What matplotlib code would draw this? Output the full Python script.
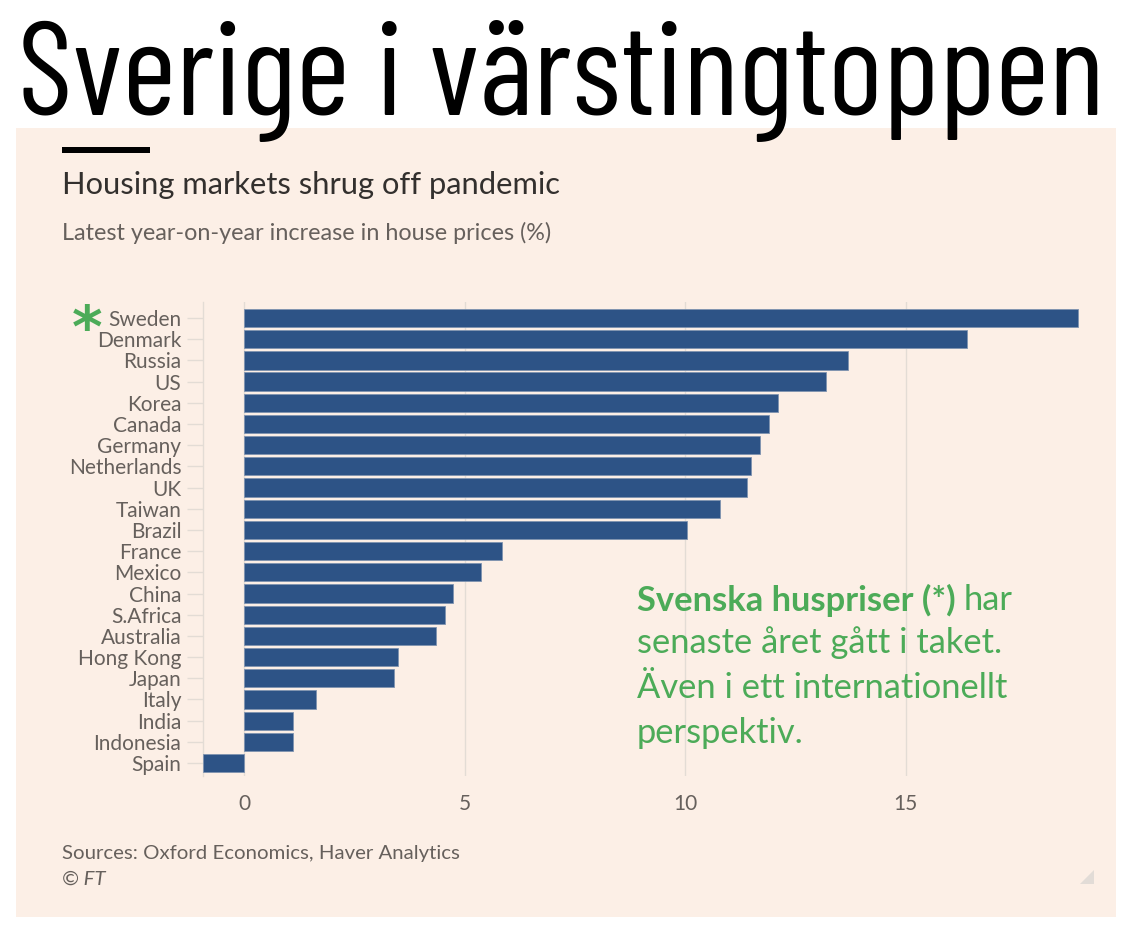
import matplotlib
matplotlib.use("Agg")
import matplotlib.pyplot as plt
from matplotlib.patches import Rectangle, Polygon

# data
countries = ["Sweden", "Denmark", "Russia", "US", "Korea", "Canada", "Germany",
             "Netherlands", "UK", "Taiwan", "Brazil", "France", "Mexico", "China",
             "S.Africa", "Australia", "Hong Kong", "Japan", "Italy", "India",
             "Indonesia", "Spain"]
increase = [18.9, 16.4, 13.7, 13.2, 12.1, 11.9, 11.7, 11.5, 11.4, 10.8, 10.05,
            5.85, 5.38, 4.73, 4.55, 4.35, 3.48, 3.41, 1.63, 1.12, 1.1, -0.92]
xticks = [0, 5, 10, 15]

W, H = 1142, 930
BG = "#fcefe6"
BAR = "#2d5386"
GRID = "#e3dcd5"
GREY = "#66605c"
GREEN = "#4cab58"
SANS = ["Lato", "DejaVu Sans"]

fig = plt.figure(figsize=(W / 100, H / 100), dpi=100)
fig.patch.set_facecolor("white")

def fx(px):
    return px / W

def fy(py):
    return 1 - py / H

# beige panel
fig.patches.append(Rectangle((fx(16), fy(917)), fx(1116) - fx(16), fy(128) - fy(917),
                             transform=fig.transFigure, facecolor=BG, edgecolor="none", zorder=-10))
# small FT rule
fig.patches.append(Rectangle((fx(62), fy(153)), fx(150) - fx(62), fy(147) - fy(153),
                             transform=fig.transFigure, facecolor="black", edgecolor="none", zorder=-5))
# resize corner mark
fig.patches.append(Polygon([(fx(1094), fy(870)), (fx(1094), fy(884)), (fx(1080), fy(884))],
                           closed=True, transform=fig.transFigure, facecolor="#e2dcd7",
                           edgecolor="none", zorder=-5))

# big headline, scaled to width
title = fig.text(fx(18), fy(115), "Sverige i värstingtoppen",
                 family=["Barlow Condensed", "Liberation Sans Narrow", "DejaVu Sans"],
                 fontweight="normal", fontsize=100, color="black", va="baseline", ha="left", zorder=5)
fig.canvas.draw()
bb = title.get_window_extent()
title.set_fontsize(100 * (1087 / bb.width))

fig.text(fx(62), fy(185), "Housing markets shrug off pandemic", family=SANS,
         fontsize=22.2, color="#33302e", va="center", ha="left")
fig.text(fx(62), fy(233), "Latest year-on-year increase in house prices (%)", family=SANS,
         fontsize=16.8, color=GREY, va="center", ha="left")

ax = fig.add_axes([fx(203), fy(776), fx(1082) - fx(203), fy(302) - fy(776)])
ax.set_facecolor("none")
pos = list(range(len(countries)))
ax.barh(pos, increase, height=0.86, color=BAR, edgecolor="#7f93b0", linewidth=0.6, zorder=3)
ax.set_xlim(-0.93, 19.0)
ax.set_ylim(21.61, -0.755)
ax.set_xticks(xticks)
ax.set_xticklabels([str(t) for t in xticks], family=SANS, fontsize=15, color=GREY)
ax.set_yticks(pos)
ax.set_yticklabels(countries, family=SANS, fontsize=15, color=GREY)
ax.tick_params(axis="y", length=11.5, width=1, color=GRID, pad=4)
ax.tick_params(axis="x", length=0, pad=13)
ax.grid(axis="x", color=GRID, linewidth=1, zorder=0)
for s in ["top", "right", "bottom"]:
    ax.spines[s].set_visible(False)
ax.spines["left"].set_color(GRID)
ax.spines["left"].set_linewidth(1)

# green asterisk next to Sweden
fig.text(fx(87), fy(330), "*", family="DejaVu Sans", fontsize=42, fontweight="bold",
         color=GREEN, ha="center", va="center")

# annotation
ANN = 24.8
t1 = fig.text(fx(637), fy(600), "Svenska huspriser (*)", family=SANS, fontweight="bold",
              fontsize=ANN, color=GREEN, ha="left", va="center")
fig.canvas.draw()
b1 = t1.get_window_extent()
fig.text(b1.x1 / W + fx(8), fy(600), "har", family=SANS, fontsize=ANN, color=GREEN,
         ha="left", va="center")
for i, line in enumerate(["senaste året gått i taket.", "Även i ett internationellt", "perspektiv."]):
    fig.text(fx(637), fy(643 + 45 * i), line, family=SANS, fontsize=ANN, color=GREEN,
             ha="left", va="center")

fig.text(fx(62), fy(853), "Sources: Oxford Economics, Haver Analytics", family=SANS,
         fontsize=14.7, color=GREY, ha="left", va="center")
fig.text(fx(62), fy(879), "© FT", family=SANS, fontsize=14.7, style="italic",
         color=GREY, ha="left", va="center")

fig.savefig("out.png", dpi=100, facecolor="white")
